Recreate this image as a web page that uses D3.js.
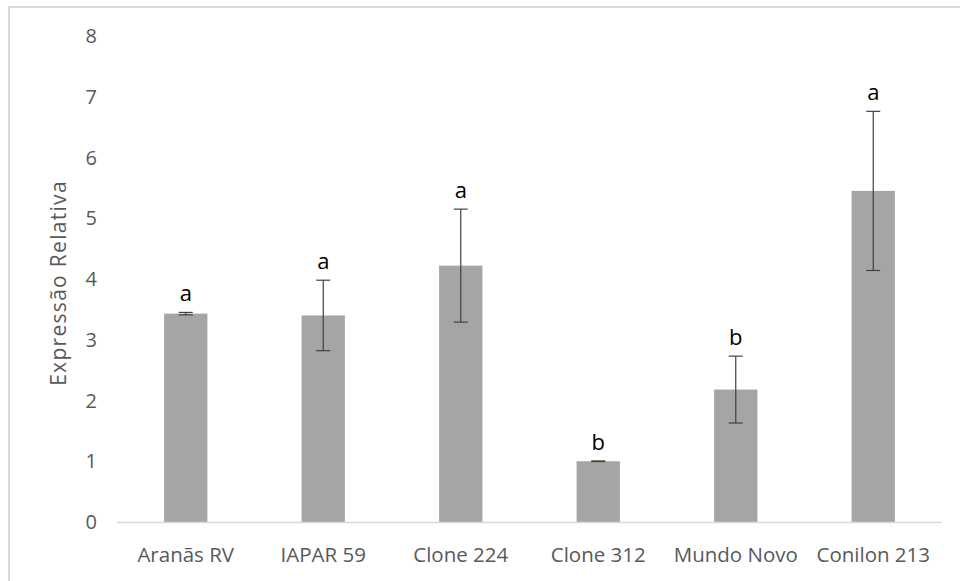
<!DOCTYPE html>
<html>
<head>
<meta charset="utf-8">
<script src="https://cdn.jsdelivr.net/npm/d3@7"></script>
<style>
  body { margin: 0; background: #fff; }
  svg { display: block; }
</style>
</head>
<body>
<script>
// data
var cultivars = ["Aranãs RV", "IAPAR 59", "Clone 224", "Clone 312", "Mundo Novo", "Conilon 213"];
var expression = [3.43, 3.40, 4.22, 1.00, 2.18, 5.45];
var errors = [0.02, 0.58, 0.93, 0.005, 0.55, 1.31];
var letters = ["a", "a", "a", "b", "b", "a"];
var yTicks = [0, 1, 2, 3, 4, 5, 6, 7, 8];

var width = 960, height = 581;
var margin = {left: 117, right: 18, top: 36, bottom: 59};

var svg = d3.select("body").append("svg")
    .attr("width", width)
    .attr("height", height);

// chart frame (cut off at right and bottom)
svg.append("rect")
    .attr("x", 9)
    .attr("y", 7)
    .attr("width", 1000)
    .attr("height", 700)
    .attr("fill", "none")
    .attr("stroke", "#d9d9d9")
    .attr("stroke-width", 2);

var x = d3.scaleBand()
    .domain(cultivars)
    .range([margin.left, width - margin.right]);

var y = d3.scaleLinear()
    .domain([0, 8])
    .range([height - margin.bottom, margin.top]);

var barW = x.bandwidth() * 0.315;
var font = "'Open Sans', 'Noto Sans', sans-serif";

// y tick labels
svg.append("g")
  .selectAll("text")
  .data(yTicks)
  .join("text")
    .attr("x", margin.left - 20)
    .attr("y", d => y(d))
    .attr("dy", "0.36em")
    .attr("text-anchor", "end")
    .attr("font-family", font)
    .attr("font-size", 20)
    .attr("fill", "#595959")
    .text(d => d);

// axis title
svg.append("text")
    .attr("transform", "translate(66," + 283 + ") rotate(-90)")
    .attr("text-anchor", "middle")
    .attr("font-family", font)
    .attr("font-size", 21)
    .attr("letter-spacing", 1.3)
    .attr("fill", "#595959")
    .text("Expressão Relativa");

var data = cultivars.map((c, i) => ({name: c, v: expression[i], e: errors[i], l: letters[i]}));

// bars
svg.append("g")
  .selectAll("rect")
  .data(data)
  .join("rect")
    .attr("x", d => x(d.name) + x.bandwidth() / 2 - barW / 2)
    .attr("y", d => y(d.v))
    .attr("width", barW)
    .attr("height", d => y(0) - y(d.v))
    .attr("fill", "#a5a5a5");

// baseline
svg.append("line")
    .attr("x1", margin.left)
    .attr("x2", width - margin.right)
    .attr("y1", y(0) + 0.5)
    .attr("y2", y(0) + 0.5)
    .attr("stroke", "#d9d9d9")
    .attr("stroke-width", 1.5);

// error bars
var eb = svg.append("g")
    .attr("stroke", "#404040")
    .attr("stroke-width", 1.2);

eb.selectAll("line.v")
  .data(data)
  .join("line")
    .attr("class", "v")
    .attr("x1", d => x(d.name) + x.bandwidth() / 2)
    .attr("x2", d => x(d.name) + x.bandwidth() / 2)
    .attr("y1", d => y(d.v + d.e))
    .attr("y2", d => y(d.v - d.e));

eb.selectAll("line.top")
  .data(data)
  .join("line")
    .attr("class", "top")
    .attr("x1", d => x(d.name) + x.bandwidth() / 2 - 7)
    .attr("x2", d => x(d.name) + x.bandwidth() / 2 + 7)
    .attr("y1", d => y(d.v + d.e))
    .attr("y2", d => y(d.v + d.e));

eb.selectAll("line.bot")
  .data(data)
  .join("line")
    .attr("class", "bot")
    .attr("x1", d => x(d.name) + x.bandwidth() / 2 - 7)
    .attr("x2", d => x(d.name) + x.bandwidth() / 2 + 7)
    .attr("y1", d => y(d.v - d.e))
    .attr("y2", d => y(d.v - d.e));

// significance letters
svg.append("g")
  .selectAll("text")
  .data(data)
  .join("text")
    .attr("x", d => x(d.name) + x.bandwidth() / 2)
    .attr("y", d => y(d.v + d.e) - 11)
    .attr("text-anchor", "middle")
    .attr("font-family", font)
    .attr("font-size", 22)
    .attr("fill", "#000")
    .text(d => d.l);

// category labels
svg.append("g")
  .selectAll("text")
  .data(cultivars)
  .join("text")
    .attr("x", d => x(d) + x.bandwidth() / 2)
    .attr("y", 562)
    .attr("text-anchor", "middle")
    .attr("font-family", font)
    .attr("font-size", 20.5)
    .attr("fill", "#595959")
    .text(d => d);
</script>
</body>
</html>
